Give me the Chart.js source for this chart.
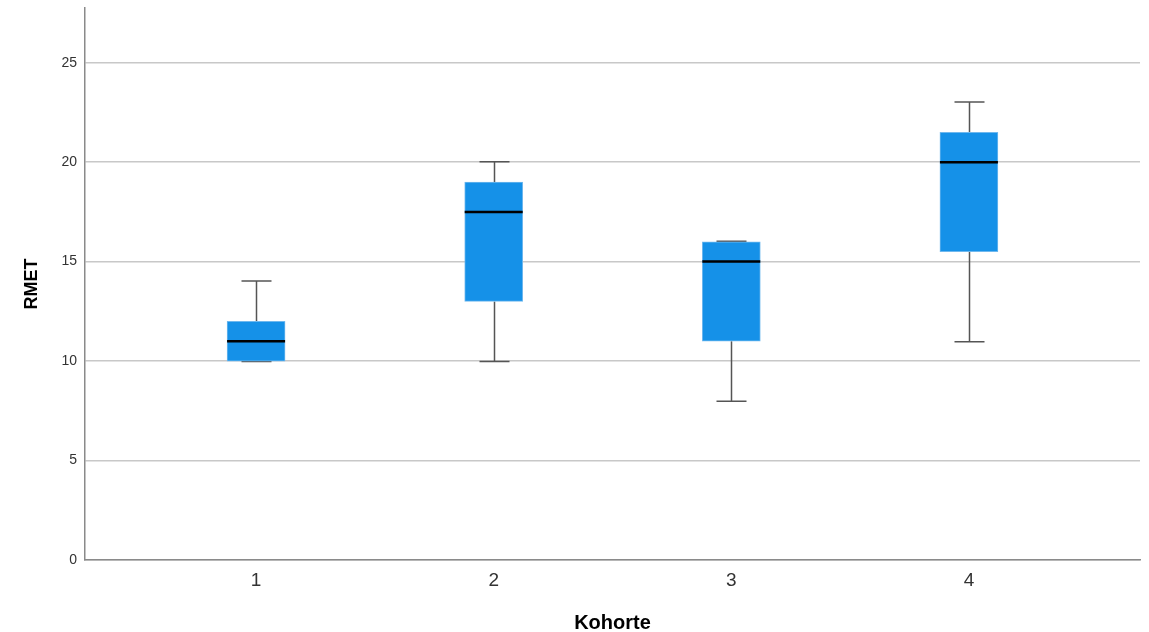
<!DOCTYPE html>
<html>
<head>
<meta charset="utf-8">
<script src="https://cdn.jsdelivr.net/npm/chart.js@4"></script>
<style>
html,body{margin:0;padding:0;background:#fff;}
#wrap{width:1149px;height:632px;position:relative;}
</style>
</head>
<body>
<div id="wrap"><canvas id="c"></canvas></div>
<script>
const categories = ['1', '2', '3', '4'];
const positions = [1, 2, 3, 4];
const mins    = [10, 10, 8, 11];
const q1s     = [10, 13, 11, 15.5];
const medians = [11, 17.5, 15, 20];
const q3s     = [12, 19, 16, 21.5];
const maxs    = [14, 20, 16, 23];
const yTicks  = [0, 5, 10, 15, 20, 25];

const boxData = positions.map((p, i) => ({ x: p, y: [q1s[i], q3s[i]] }));

const whiskerPlugin = {
  id: 'whiskers',
  beforeDatasetsDraw(chart) {
    const { ctx, scales: { x, y } } = chart;
    ctx.save();
    ctx.strokeStyle = '#555555';
    ctx.lineWidth = 1.5;
    positions.forEach((p, i) => {
      const cx = Math.round(x.getPixelForValue(p)) + 0.5;
      const half = 15;
      const yMin = y.getPixelForValue(mins[i]);
      const yMax = y.getPixelForValue(maxs[i]);
      const yQ1 = y.getPixelForValue(q1s[i]);
      const yQ3 = y.getPixelForValue(q3s[i]);
      ctx.beginPath();
      ctx.moveTo(cx, yMin); ctx.lineTo(cx, yQ1);
      ctx.moveTo(cx, yQ3); ctx.lineTo(cx, yMax);
      ctx.moveTo(cx - half, yMin + 0.5); ctx.lineTo(cx + half, yMin + 0.5);
      ctx.moveTo(cx - half, yMax - 0.5); ctx.lineTo(cx + half, yMax - 0.5);
      ctx.stroke();
    });
    ctx.restore();
  },
  afterDatasetsDraw(chart) {
    const { ctx, scales: { x, y } } = chart;
    ctx.save();
    ctx.strokeStyle = '#000000';
    ctx.lineWidth = 2.5;
    positions.forEach((p, i) => {
      const cx = x.getPixelForValue(p);
      const ym = y.getPixelForValue(medians[i]);
      ctx.beginPath();
      ctx.moveTo(cx - 29, ym); ctx.lineTo(cx + 29, ym);
      ctx.stroke();
    });
    ctx.restore();
  }
};

new Chart(document.getElementById('c'), {
  type: 'bar',
  data: {
    datasets: [{
      data: boxData,
      backgroundColor: '#1591e8',
      borderColor: '#6fb8ee',
      borderWidth: 1,
      borderSkipped: false,
      barThickness: 58
    }]
  },
  options: {
    responsive: true,
    maintainAspectRatio: false,
    animation: false,
    layout: { padding: { top: 8, right: 9, left: 0, bottom: 0 } },
    plugins: { legend: { display: false }, tooltip: { enabled: false } },
    scales: {
      x: {
        type: 'linear',
        offset: false,
        min: 0.28,
        max: 4.72,
        afterBuildTicks(scale) { scale.ticks = positions.map(v => ({ value: v })); },
        afterFit(scale) { scale.height = 72; scale.paddingLeft = 0; scale.paddingRight = 0; },
        ticks: {
          callback: (v) => categories[positions.indexOf(v)] ?? '',
          font: { family: 'Liberation Sans, Arial, sans-serif', size: 19 },
          color: '#333333',
          padding: 9,
          maxRotation: 0
        },
        grid: { display: false, drawTicks: false, offset: false },
        border: { display: true, color: '#8a8a8a', width: 1.5 },
        title: {
          display: true,
          text: 'Kohorte',
          font: { family: 'Liberation Sans, Arial, sans-serif', size: 20, weight: 'bold' },
          color: '#000000',
          padding: { top: 0, bottom: -3 }
        }
      },
      y: {
        min: 0,
        max: 27.75,
        afterBuildTicks(scale) { scale.ticks = yTicks.map(v => ({ value: v })); },
        afterFit(scale) { scale.width = 85; scale.paddingTop = 0; scale.paddingBottom = 0; },
        ticks: {
          font: { family: 'Liberation Sans, Arial, sans-serif', size: 14 },
          color: '#333333',
          padding: 8
        },
        grid: { color: '#c8c8c8', lineWidth: 1.5, drawTicks: false },
        border: { display: true, color: '#8a8a8a', width: 1.5 },
        title: {
          display: true,
          text: 'RMET',
          font: { family: 'Liberation Sans, Arial, sans-serif', size: 18, weight: 'bold' },
          color: '#000000',
          padding: { top: 21, bottom: 0 }
        }
      }
    }
  },
  plugins: [whiskerPlugin]
});
</script>
</body>
</html>
